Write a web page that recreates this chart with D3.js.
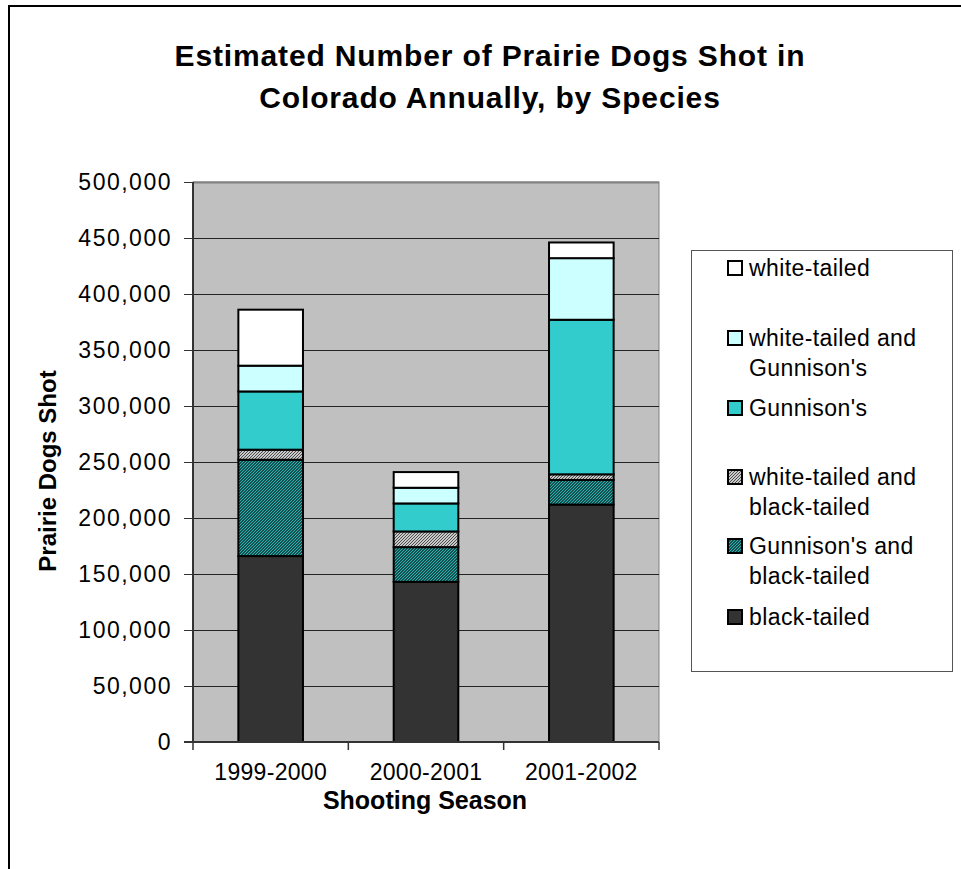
<!DOCTYPE html>
<html>
<head>
<meta charset="utf-8">
<script src="https://cdn.jsdelivr.net/npm/d3@7"></script>
<style>
html,body{margin:0;padding:0;background:#fff;}
svg{display:block;font-family:Arial,"Liberation Sans",sans-serif;}
</style>
</head>
<body>
<svg id="chart" width="961" height="869"></svg>
<script>
// ---- data ----
const seasons = ["1999-2000", "2000-2001", "2001-2002"];
const seriesNames = ["black-tailed", "Gunnison's and black-tailed", "white-tailed and black-tailed", "Gunnison's", "white-tailed and Gunnison's", "white-tailed"];
const blackTailed = [166000, 143000, 212000];
const gunnisonBlack = [86000, 31000, 22000];
const whiteBlack = [9000, 14000, 5000];
const gunnison = [52000, 25000, 138000];
const whiteGunnison = [23000, 14000, 55000];
const whiteTailed = [50000, 14000, 14000];
const yTicks = [0, 50000, 100000, 150000, 200000, 250000, 300000, 350000, 400000, 450000, 500000];
const legendLines = [["white-tailed"], ["white-tailed and", "Gunnison's"], ["Gunnison's"], ["white-tailed and", "black-tailed"], ["Gunnison's and", "black-tailed"], ["black-tailed"]];

const seriesValues = [blackTailed, gunnisonBlack, whiteBlack, gunnison, whiteGunnison, whiteTailed];
const fills = ["#333333", "url(#patTeal)", "url(#patGray)", "#33CCCC", "#CCFFFF", "#FFFFFF"];

const svg = d3.select("#chart");

// patterns (fine diagonal checks)
const defs = svg.append("defs");
const pt = defs.append("pattern").attr("id", "patTeal").attr("patternUnits", "userSpaceOnUse").attr("width", 3).attr("height", 3);
pt.append("rect").attr("width", 3).attr("height", 3).attr("fill", "#082626");
pt.append("path").attr("d", "M-1,1 l2,-2 M0,3 l3,-3 M2,4 l2,-2").attr("stroke", "#30b8b8").attr("stroke-width", 1.1);
const pg = defs.append("pattern").attr("id", "patGray").attr("patternUnits", "userSpaceOnUse").attr("width", 3).attr("height", 3);
pg.append("rect").attr("width", 3).attr("height", 3).attr("fill", "#ffffff");
pg.append("path").attr("d", "M-1,1 l2,-2 M0,3 l3,-3 M2,4 l2,-2").attr("stroke", "#444444").attr("stroke-width", 1.1);

// outer border
svg.append("rect").attr("x", 9).attr("y", 6).attr("width", 970).attr("height", 880)
  .attr("fill", "none").attr("stroke", "#000").attr("stroke-width", 2);

// title
const title = svg.append("text").attr("text-anchor", "middle").attr("font-weight", "bold").attr("font-size", 30)
  .attr("letter-spacing", 0.85).attr("fill", "#000");
title.append("tspan").attr("x", 490).attr("y", 66).text("Estimated Number of Prairie Dogs Shot in");
title.append("tspan").attr("x", 490).attr("y", 108).text("Colorado Annually, by Species");

// plot area
const plot = {left: 193, right: 659, top: 182, bottom: 742};
const x = d3.scaleBand().domain(seasons).range([plot.left, plot.right]).paddingInner(0.584).paddingOuter(0.292);
const y = d3.scaleLinear().domain([0, 500000]).range([plot.bottom, plot.top]);

svg.append("rect").attr("x", plot.left).attr("y", plot.top)
  .attr("width", plot.right - plot.left).attr("height", plot.bottom - plot.top)
  .attr("fill", "#C0C0C0").attr("stroke", "#808080").attr("stroke-width", 1);

// gridlines
svg.append("g").selectAll("line").data(yTicks.filter(d => d > 0)).join("line")
  .attr("x1", plot.left).attr("x2", plot.right)
  .attr("y1", d => Math.round(y(d)) + 0.5).attr("y2", d => Math.round(y(d)) + 0.5)
  .attr("stroke", d => d === 500000 ? "#808080" : "#222").attr("stroke-width", d => d === 500000 ? 2 : 1);

// stacked bars
const rows = seasons.map((s, i) => {
  const r = {season: s};
  seriesNames.forEach((n, k) => r[n] = seriesValues[k][i]);
  return r;
});
const stacked = d3.stack().keys(seriesNames)(rows);
svg.append("g").selectAll("g").data(stacked).join("g")
  .attr("fill", (d, i) => fills[i])
  .selectAll("rect").data(d => d).join("rect")
  .attr("x", d => x(d.data.season))
  .attr("width", x.bandwidth())
  .attr("y", d => y(d[1]))
  .attr("height", d => y(d[0]) - y(d[1]))
  .attr("stroke", "#000").attr("stroke-width", 2);

// y axis
const yAxis = d3.axisLeft(y).tickValues(yTicks).tickSize(9).tickPadding(12)
  .tickFormat(d3.format(","));
const ya = svg.append("g").attr("transform", `translate(${plot.left},0)`).call(yAxis);
ya.select(".domain").attr("stroke", "#333").attr("stroke-width", 2).attr("d", `M0,${plot.top}V${plot.bottom}`);
ya.selectAll(".tick line").attr("stroke", "#333");
ya.selectAll(".tick text").attr("font-size", 23).attr("font-family", "Arial,'Liberation Sans',sans-serif").attr("fill", "#000").attr("letter-spacing", 1.5);

// x axis
const xAxis = d3.axisBottom(x).tickSize(0).tickPadding(22);
const xa = svg.append("g").attr("transform", `translate(0,${plot.bottom})`).call(xAxis);
xa.select(".domain").attr("stroke", "#333").attr("stroke-width", 2).attr("d", `M${plot.left - 9},0H${plot.right}`);
xa.selectAll(".tick text").attr("font-size", 23).attr("font-family", "Arial,'Liberation Sans',sans-serif").attr("fill", "#000").attr("letter-spacing", 0.3);
// category boundary ticks
const bounds = [plot.left].concat(seasons.map(s => x(s) + x.bandwidth() / 2 + x.step() / 2));
xa.selectAll(".bound").data(bounds).join("line").attr("class", "bound")
  .attr("x1", d => d).attr("x2", d => d).attr("y1", 0).attr("y2", 8)
  .attr("stroke", "#333").attr("stroke-width", 1.5);

// axis titles
svg.append("text").attr("transform", "translate(56,471) rotate(-90)")
  .attr("text-anchor", "middle").attr("font-weight", "bold").attr("font-size", 24).text("Prairie Dogs Shot");
svg.append("text").attr("x", 425).attr("y", 809)
  .attr("text-anchor", "middle").attr("font-weight", "bold").attr("font-size", 25).text("Shooting Season");

// legend
const lg = svg.append("g");
lg.append("rect").attr("x", 691.5).attr("y", 250.5).attr("width", 261).attr("height", 421)
  .attr("fill", "#fff").attr("stroke", "#555").attr("stroke-width", 1);
const legendOrder = [5, 4, 3, 2, 1, 0];
const legendY = [268, 338, 408, 477, 546, 617];
legendOrder.forEach((k, i) => {
  const cy = legendY[i];
  lg.append("rect").attr("x", 728).attr("y", cy - 7).attr("width", 14).attr("height", 14)
    .attr("fill", fills[k]).attr("stroke", "#000").attr("stroke-width", 2);
  const t = lg.append("text").attr("font-size", 23).attr("fill", "#000").attr("letter-spacing", 0.4);
  legendLines[i].forEach((ln, j) => {
    t.append("tspan").attr("x", 749).attr("y", cy + 8 + j * 29.5).text(ln);
  });
});
</script>
</body>
</html>
